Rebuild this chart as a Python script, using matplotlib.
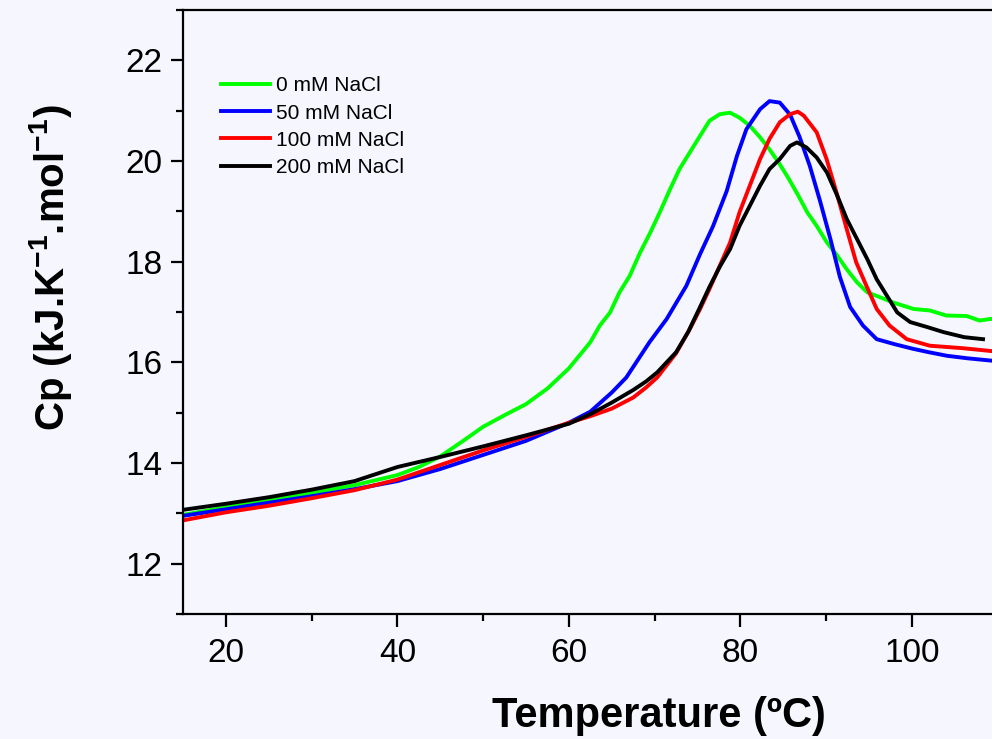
import matplotlib
matplotlib.use('Agg')
import matplotlib.pyplot as plt
from matplotlib.ticker import MultipleLocator

plt.rcParams['font.family'] = ['Liberation Sans', 'DejaVu Sans']
plt.rcParams['mathtext.fontset'] = 'custom'
plt.rcParams['mathtext.rm'] = 'Liberation Sans'
plt.rcParams['mathtext.bf'] = 'Liberation Sans:bold'
plt.rcParams['mathtext.default'] = 'bf'

temp_0mM = [15, 20, 25, 30, 35, 40, 42.5, 45, 47.5, 50, 52.5, 55, 57.5, 60, 62.5,
            63.6, 64.8, 65.9, 67.1, 68.3, 69.5, 70.6, 71.8, 72.9, 74.1, 75.3, 76.4,
            77.6, 78.8, 79.9, 81.1, 82.3, 83.4, 84.5, 85.6, 86.7, 87.8, 88.9, 90.1,
            91.3, 92.4, 93.6, 94.8, 95.9, 97.8, 100.2, 102.1, 104.0, 106.4, 107.9, 109.5]
cp_0mM = [12.97, 13.12, 13.27, 13.41, 13.56, 13.76, 13.92, 14.13, 14.42, 14.72, 14.95,
          15.17, 15.48, 15.88, 16.40, 16.73, 16.99, 17.39, 17.72, 18.18, 18.58, 18.98,
          19.44, 19.84, 20.17, 20.50, 20.80, 20.93, 20.96, 20.86, 20.70, 20.47, 20.23,
          19.96, 19.66, 19.33, 18.98, 18.71, 18.38, 18.12, 17.85, 17.59, 17.39, 17.32,
          17.19, 17.06, 17.03, 16.93, 16.92, 16.83, 16.87]

temp_50mM = [15, 20, 25, 30, 35, 40, 45, 50, 55, 60, 62.5, 65, 66.7, 69.4, 71.4, 73.7,
             75.3, 76.8, 78.4, 79.6, 80.7, 82.3, 83.4, 84.6, 85.8, 86.9, 88.1, 89.3,
             90.5, 91.6, 92.8, 94.3, 95.9, 98.0, 100.1, 102.0, 104.1, 106.5, 109.5]
cp_50mM = [12.95, 13.08, 13.21, 13.34, 13.48, 13.64, 13.88, 14.16, 14.44, 14.80, 15.02,
           15.40, 15.70, 16.40, 16.86, 17.52, 18.15, 18.70, 19.40, 20.10, 20.63, 21.03,
           21.19, 21.16, 20.92, 20.48, 19.90, 19.20, 18.45, 17.70, 17.10, 16.73, 16.46,
           16.36, 16.27, 16.20, 16.13, 16.08, 16.03]

temp_100mM = [15, 20, 25, 30, 35, 40, 45, 50, 55, 60, 62.5, 65, 67.5, 69.0, 70.3, 72.5,
              74.1, 75.3, 76.4, 77.6, 78.8, 79.9, 81.1, 82.3, 83.4, 84.6, 85.8, 86.7,
              87.4, 88.9, 90.05, 91.2, 92.4, 93.5, 94.7, 95.9, 97.4, 99.4, 102.1, 106.0, 109.5]
cp_100mM = [12.86, 13.02, 13.15, 13.30, 13.46, 13.67, 13.96, 14.25, 14.52, 14.80, 14.93,
            15.08, 15.30, 15.50, 15.70, 16.18, 16.66, 17.06, 17.46, 17.92, 18.38, 18.98,
            19.51, 20.04, 20.44, 20.77, 20.93, 20.98, 20.90, 20.57, 20.04, 19.38, 18.65,
            17.99, 17.52, 17.06, 16.73, 16.46, 16.33, 16.28, 16.22]

temp_200mM = [15, 20, 25, 30, 35, 40, 45, 50, 55, 60, 62.5, 65, 67.5, 69.0, 70.3, 72.5,
              73.9, 75.3, 76.4, 77.6, 78.8, 79.9, 81.1, 82.3, 83.4, 84.6, 85.8, 86.6,
              87.7, 88.9, 90.1, 91.3, 92.4, 93.6, 94.8, 95.9, 97.1, 98.3, 99.8, 101.8,
              103.7, 106.1, 108.3]
cp_200mM = [13.07, 13.19, 13.32, 13.47, 13.64, 13.92, 14.12, 14.33, 14.55, 14.78, 14.97,
            15.20, 15.45, 15.62, 15.80, 16.20, 16.60, 17.10, 17.50, 17.90, 18.25, 18.71,
            19.11, 19.51, 19.84, 20.04, 20.30, 20.37, 20.27, 20.07, 19.77, 19.31, 18.85,
            18.45, 18.05, 17.65, 17.32, 16.99, 16.80, 16.70, 16.60, 16.50, 16.46]

etiquetas = ['0 mM NaCl', '50 mM NaCl', '100 mM NaCl', '200 mM NaCl']
colores = ['#00FF00', '#0000FF', '#FF0000', '#000000']

fondo = '#F6F7FE'
fig = plt.figure(figsize=(9.92, 7.39), dpi=100, facecolor=fondo)
ax = fig.add_axes([183/992, 1 - 614/739, 809/992, 604/739], facecolor=fondo)

series = [(temp_0mM, cp_0mM), (temp_50mM, cp_50mM), (temp_100mM, cp_100mM), (temp_200mM, cp_200mM)]
for (t, cp), lab, col in zip(series, etiquetas, colores):
    ax.plot(t, cp, color=col, lw=2.8, label=lab)

ax.set_xlim(15, 15 + 809/8.575)
ax.set_ylim(11, 23)
ax.xaxis.set_major_locator(MultipleLocator(20))
ax.xaxis.set_minor_locator(MultipleLocator(10))
ax.yaxis.set_major_locator(MultipleLocator(2))
ax.yaxis.set_minor_locator(MultipleLocator(1))

for s in ['left', 'bottom', 'top']:
    ax.spines[s].set_linewidth(1.6)
ax.spines['right'].set_visible(False)
ax.tick_params(which='major', direction='out', length=9, width=1.6, labelsize=24)
ax.tick_params(axis='y', which='major', pad=6)
ax.tick_params(axis='x', which='major', pad=8)
ax.tick_params(which='minor', direction='out', length=5, width=1.6)

fig.text(659/992, 1 - 716/739, 'Temperature (ºC)', fontsize=30, fontweight='bold',
         ha='center', va='center')
fig.text(51/992, 1 - 268/739, r'Cp (kJ.K$^{-1}$.mol$^{-1}$)', fontsize=29,
         fontweight='bold', rotation=90, ha='center', va='center')

ax.legend(loc='upper left', bbox_to_anchor=(0.047, 0.890), frameon=False, fontsize=15,
          handlelength=2.35, handletextpad=0.3, labelspacing=0.39, borderpad=0,
          borderaxespad=0)

fig.savefig('out.png', dpi=100, facecolor=fondo)
